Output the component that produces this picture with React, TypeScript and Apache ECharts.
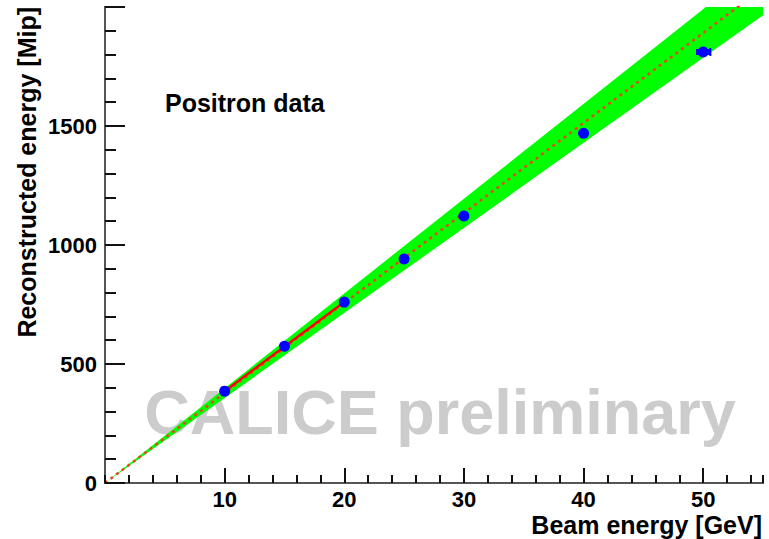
import React, { useEffect, useRef } from "react";
import * as echarts from "echarts";

// Data
const energies = [10, 15, 20, 25, 30, 40, 50];
const recoMip = [386, 575, 760, 941, 1122, 1470, 1811];
const xErr = [0, 0, 0, 0, 0, 0, 0.6];

const fitX = [10, 20];
const fitY = [386, 760];

const extrapX = [0, 55];
const extrapY = [0, 2080];

const bandX = [0, 55];
const bandLower = [0, 1965];
const bandUpper = [0, 2190];

const xMajorTicks = [0, 10, 20, 30, 40, 50];
const yMajorTicks = [0, 500, 1000, 1500];

const FONT = "'Liberation Sans', Arial, Helvetica, sans-serif";

export default function App() {
  const ref = useRef<HTMLDivElement>(null);

  useEffect(() => {
    if (!ref.current) return;
    const chart = echarts.init(ref.current, undefined, { renderer: "svg" });

    const labelStyle = {
      color: "#000",
      fontFamily: FONT,
      fontWeight: "bold" as const,
      fontSize: 22,
    };

    const frameAxis = {
      type: "value",
      min: 0,
      axisLine: { show: true, lineStyle: { color: "#555", width: 2 } },
      axisTick: { show: false },
      axisLabel: { show: false },
      splitLine: { show: false },
    };

    const option: any = {
      animation: false,
      backgroundColor: "#ffffff",
      grid: {
        left: 105,
        right: 6,
        top: 7,
        bottom: 56,
      },
      xAxis: [
        {
          type: "value",
          min: 0,
          max: 55,
          interval: 10,
          position: "bottom",
          axisLine: { show: true, onZero: false, lineStyle: { color: "#111", width: 2 } },
          axisTick: { show: true, inside: true, length: 15, lineStyle: { color: "#111", width: 2 } },
          axisLabel: {
            ...labelStyle,
            margin: 5,
            showMinLabel: false,
            showMaxLabel: false,
            formatter: (v: number) => (xMajorTicks.includes(v) ? String(v) : ""),
          },
          splitLine: { show: false },
          z: 10,
        },
        {
          type: "value",
          min: 0,
          max: 55,
          interval: 2,
          position: "bottom",
          axisLine: { show: false, onZero: false },
          axisTick: { show: true, inside: true, length: 8, lineStyle: { color: "#111", width: 2 } },
          axisLabel: { show: false },
          splitLine: { show: false },
          z: 10,
        },
        { ...frameAxis, max: 55, position: "top", z: 10 },
      ],
      yAxis: [
        {
          type: "value",
          min: 0,
          max: 2000,
          interval: 500,
          axisLine: { show: true, onZero: false, lineStyle: { color: "#111", width: 2 } },
          axisTick: { show: true, inside: true, length: 20, lineStyle: { color: "#111", width: 2 } },
          minorTick: { show: true, splitNumber: 5, length: 11, lineStyle: { color: "#111", width: 2 } },
          axisLabel: {
            ...labelStyle,
            margin: 8,
            showMaxLabel: false,
            formatter: (v: number) => (yMajorTicks.includes(v) ? String(v) : ""),
          },
          splitLine: { show: false },
          minorSplitLine: { show: false },
          z: 10,
        },
        { ...frameAxis, max: 2000, position: "right", z: 10 },
      ],
      graphic: [
        {
          type: "text",
          z: 0,
          x: 440,
          y: 412,
          silent: true,
          style: {
            text: "CALICE preliminary",
            fill: "#cccccc",
            font: `bold 63px ${FONT}`,
            align: "center",
            verticalAlign: "middle",
          },
        },
        {
          type: "text",
          x: 165,
          y: 103,
          style: {
            text: "Positron data",
            fill: "#000",
            font: `bold 25px ${FONT}`,
            align: "left",
            verticalAlign: "middle",
          },
        },
        {
          type: "text",
          x: 762,
          y: 525,
          style: {
            text: "Beam energy [GeV]",
            fill: "#000",
            font: `bold 25px ${FONT}`,
            align: "right",
            verticalAlign: "middle",
          },
        },
        {
          type: "text",
          x: 27,
          y: 7,
          rotation: Math.PI / 2,
          style: {
            text: "Reconstructed energy [Mip]",
            fill: "#000",
            font: `bold 25px ${FONT}`,
            align: "right",
            verticalAlign: "middle",
          },
        },
      ],
      series: [
        {
          name: "band",
          type: "custom",
          xAxisIndex: 0,
          yAxisIndex: 0,
          clip: true,
          z: 1,
          data: bandX.map((x, i) => [x, bandLower[i], bandUpper[i]]),
          renderItem: (params: any, api: any) => {
            if (params.dataIndex !== 0) return null;
            const upper: number[][] = [];
            const lower: number[][] = [];
            for (let i = 0; i < bandX.length; i++) {
              upper.push(api.coord([bandX[i], bandUpper[i]]));
              lower.push(api.coord([bandX[i], bandLower[i]]));
            }
            const pts = upper.concat(lower.reverse());
            const cs = params.coordSys;
            return {
              type: "group",
              clipPath: {
                type: "rect",
                shape: { x: cs.x, y: cs.y, width: cs.width, height: cs.height },
              },
              children: [
                {
                  type: "polygon",
                  shape: { points: pts },
                  style: { fill: "#00ff00", stroke: "none" },
                },
              ],
            };
          },
        },
        {
          name: "extrapolation",
          type: "line",
          xAxisIndex: 0,
          symbol: "none",
          lineStyle: { color: "#e8461e", width: 2.5, type: [3, 4] },
          data: extrapX.map((x, i) => [x, extrapY[i]]),
          z: 3,
        },
        {
          name: "fit",
          type: "line",
          xAxisIndex: 0,
          symbol: "none",
          lineStyle: { color: "#ff0000", width: 2.5 },
          data: fitX.map((x, i) => [x, fitY[i]]),
          z: 4,
        },
        {
          name: "xerr",
          type: "custom",
          xAxisIndex: 0,
          z: 5,
          data: energies.map((e, i) => [e, recoMip[i], xErr[i]]),
          renderItem: (params: any, api: any) => {
            const e = api.value(0);
            const y = api.value(1);
            const err = api.value(2);
            if (!err) return null;
            const p1 = api.coord([e - err, y]);
            const p2 = api.coord([e + err, y]);
            return {
              type: "group",
              children: [
                {
                  type: "line",
                  shape: { x1: p1[0], y1: p1[1], x2: p2[0], y2: p2[1] },
                  style: { stroke: "#0000ff", lineWidth: 6 },
                },
                {
                  type: "line",
                  shape: { x1: p2[0], y1: p2[1] - 4, x2: p2[0], y2: p2[1] + 4 },
                  style: { stroke: "#0000ff", lineWidth: 2 },
                },
              ],
            };
          },
        },
        {
          name: "data",
          type: "scatter",
          xAxisIndex: 0,
          symbol: "circle",
          symbolSize: 11,
          itemStyle: { color: "#0000ff", opacity: 1 },
          data: energies.map((e, i) => [e, recoMip[i]]),
          z: 6,
        },
      ],
    };

    chart.setOption(option);
    return () => chart.dispose();
  }, []);

  return (
    <div
      ref={ref}
      style={{ position: "fixed", left: 0, top: 0, width: 769, height: 539 }}
    />
  );
}
